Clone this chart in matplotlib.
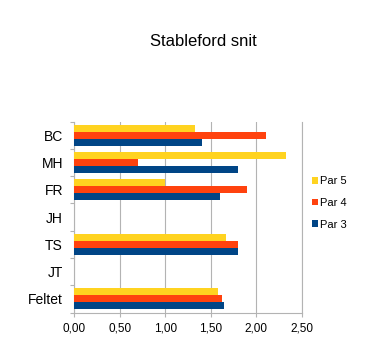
import numpy as np
import matplotlib
matplotlib.use("Agg")
import matplotlib.pyplot as plt

# data
players = ["BC", "MH", "FR", "JH", "TS", "JT", "Feltet"]
par5 = [1.33, 2.33, 1.00, np.nan, 1.67, np.nan, 1.58]
par4 = [2.10, 0.70, 1.90, np.nan, 1.80, np.nan, 1.62]
par3 = [1.40, 1.80, 1.60, np.nan, 1.80, np.nan, 1.65]
series_names = ["Par 5", "Par 4", "Par 3"]
x_ticks = [0, 0.5, 1.0, 1.5, 2.0, 2.5]
x_ticklabels = ["0,00", "0,50", "1,00", "1,50", "2,00", "2,50"]

colors = {"Par 5": "#ffd320", "Par 4": "#ff420e", "Par 3": "#004586"}

plt.rcParams["font.family"] = ["Liberation Sans", "DejaVu Sans"]

fig = plt.figure(figsize=(3.79, 3.58), dpi=100)
ax = fig.add_axes([74/379, 1 - 312.5/358, (302 - 74)/379, (312.5 - 121.5)/358])

y = np.arange(len(players))
h = 0.26
ax.barh(y - h, par5, height=h, color=colors["Par 5"], label="Par 5", zorder=3)
ax.barh(y, par4, height=h, color=colors["Par 4"], label="Par 4", zorder=3)
ax.barh(y + h, par3, height=h, color=colors["Par 3"], label="Par 3", zorder=3)

ax.set_ylim(len(players) - 0.5, -0.5)
ax.set_xlim(0, 2.5)

ax.set_yticks(y)
ax.set_yticklabels(players, fontsize=10)
ax.set_yticks(np.arange(-0.5, len(players)), minor=True)
ax.tick_params(axis="y", which="major", length=0, pad=8)
ax.tick_params(axis="y", which="minor", length=3, color="#b3b3b3", width=0.8)

ax.set_xticks(x_ticks)
ax.set_xticklabels(x_ticklabels, fontsize=8.5)
ax.tick_params(axis="x", length=3, color="#b3b3b3", width=0.8, pad=4)

ax.grid(axis="x", color="#b3b3b3", lw=0.8, zorder=0)
for s in ax.spines.values():
    s.set_color("#b3b3b3")
    s.set_linewidth(0.8)
ax.spines["top"].set_visible(False)

leg = ax.legend(loc="center left", bbox_to_anchor=(1.0, 0.573), frameon=False,
                fontsize=8, handlelength=0.55, handleheight=0.55,
                handletextpad=0.15, labelspacing=1.05)

fig.text(203/379, 1 - 41/358, "Stableford snit", fontsize=12,
         ha="center", va="center")

fig.savefig("out.png", dpi=100)
